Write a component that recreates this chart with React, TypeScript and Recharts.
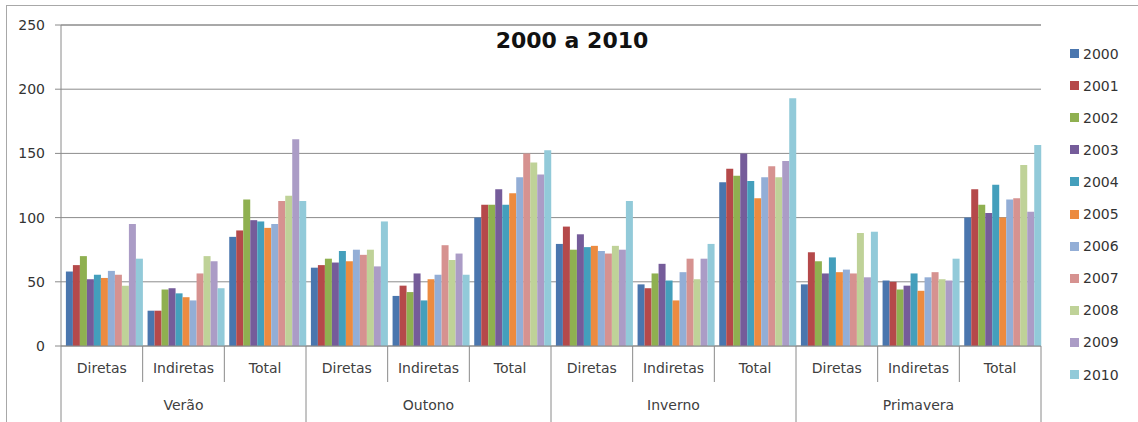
import React from "react";
import { BarChart, Bar, XAxis, YAxis, CartesianGrid } from "recharts";

// categories: season x type
const seasons = ["Verão", "Outono", "Inverno", "Primavera"];
const types = ["Diretas", "Indiretas", "Total"];
const years = ["2000", "2001", "2002", "2003", "2004", "2005", "2006", "2007", "2008", "2009", "2010"];
const yTicks = [0, 50, 100, 150, 200, 250];

// values per year, order: Verão D/I/T, Outono D/I/T, Inverno D/I/T, Primavera D/I/T
const v2000 = [58, 27.5, 85, 61, 39, 100, 79.5, 48, 127.5, 48, 51, 100];
const v2001 = [63, 27.5, 90, 63, 47, 110, 93, 45, 138, 73, 50, 122];
const v2002 = [70, 44, 114, 68, 42, 110, 75, 56.5, 132.5, 66, 44, 110];
const v2003 = [52, 45, 98, 65, 56.5, 122, 87, 64, 150, 56.5, 47, 103.5];
const v2004 = [55.5, 41, 97, 74, 35.5, 110, 77, 51, 128.5, 69, 56.5, 125.5];
const v2005 = [53, 38, 92, 66, 52, 119, 78, 35.5, 115, 57.5, 43, 100];
const v2006 = [58.5, 35.5, 95, 75, 55.5, 131.5, 74, 57.5, 131.5, 59.5, 53.5, 114];
const v2007 = [55.5, 56.5, 113, 71, 78.5, 150, 72, 68, 140, 56.5, 57.5, 115];
const v2008 = [47, 70, 117, 75, 67, 143, 78, 52, 131.5, 88, 52, 141];
const v2009 = [95, 66, 161, 62, 72, 133.5, 75, 68, 144, 53.5, 51, 104.5];
const v2010 = [68, 45, 113, 97, 55.5, 152.5, 113, 79.5, 193, 89, 68, 156.5];

const seriesValues = [v2000, v2001, v2002, v2003, v2004, v2005, v2006, v2007, v2008, v2009, v2010];

const colors = [
  "#4A76AE", "#B5494A", "#8FB050", "#755C9A", "#449FBC", "#EC8B40",
  "#93AED6", "#D69290", "#BFD298", "#AB9CC6", "#92CAD9",
];

const data = seasons.flatMap((s, si) =>
  types.map((t, ti) => {
    const row: Record<string, string | number> = { key: s + "|" + t, season: s, type: t };
    years.forEach((y, yi) => {
      row[y] = seriesValues[yi][si * 3 + ti];
    });
    return row;
  })
);

const FONT = "DejaVu Sans, sans-serif";
const W = 1138;
const H = 422;
const LEFT = 61;
const RIGHT = 1041;
const TOP = 25;
const BOTTOM = 346;
const band = (RIGHT - LEFT) / data.length;

function CategoryTick(props: any) {
  const { x, index } = props;
  const row = data[index];
  const lastInSeason = index % 3 === 2;
  const right = x + band / 2;
  const left = x - band / 2;
  return (
    <g>
      <text x={x} y={368} textAnchor="middle" dominantBaseline="central" fontSize={14} fontFamily={FONT} fill="#404040">
        {row.type}
      </text>
      {index % 3 === 1 && (
        <text x={x} y={405} textAnchor="middle" dominantBaseline="central" fontSize={14} fontFamily={FONT} fill="#404040">
          {row.season}
        </text>
      )}
      {index === 0 && <line x1={left} x2={left} y1={BOTTOM} y2={H} stroke="#8a8a8a" />}
      <line x1={right} x2={right} y1={BOTTOM} y2={lastInSeason ? H : 382} stroke="#8a8a8a" />
    </g>
  );
}

// value tick; also draws the top gridline, which the grid leaves out at the edge
function ValueTick(props: any) {
  const { x, y, payload } = props;
  return (
    <g>
      {payload.value === 250 && <line x1={LEFT} x2={RIGHT} y1={y} y2={y} stroke="#8c8c8c" />}
      <text x={x} y={y} textAnchor="end" dominantBaseline="central" fontSize={14} fontFamily={FONT} fill="#333">
        {payload.value}
      </text>
    </g>
  );
}

export default function App() {
  return (
    <div style={{ position: "absolute", left: 0, top: 0, width: W, height: H, overflow: "hidden", background: "#fff" }}>
      <div style={{ position: "absolute", left: 6, top: 5, width: W, height: H, border: "1px solid #a8a8a8" }} />
      <BarChart
        width={W}
        height={H}
        data={data}
        margin={{ top: TOP, right: W - RIGHT, left: 0, bottom: 0 }}
        barCategoryGap="6%"
        barGap={0}
      >
        <CartesianGrid vertical={false} stroke="#8c8c8c" />
        <XAxis
          dataKey="key"
          height={H - BOTTOM}
          axisLine={{ stroke: "#8a8a8a" }}
          tickLine={false}
          interval={0}
          tick={<CategoryTick />}
        />
        <YAxis
          width={LEFT}
          domain={[0, 250]}
          ticks={yTicks}
          axisLine={{ stroke: "#8a8a8a" }}
          tickLine={{ stroke: "#8a8a8a" }}
          tickSize={6}
          tickMargin={10}
          tick={<ValueTick />}
        />
        {years.map((y, i) => (
          <Bar key={y} dataKey={y} fill={colors[i]} isAnimationActive={false} />
        ))}
      </BarChart>
      <div
        style={{
          position: "absolute",
          left: 392,
          top: 28,
          width: 360,
          textAlign: "center",
          fontFamily: FONT,
          fontWeight: "bold",
          fontSize: 22,
          color: "#111",
        }}
      >
        2000 a 2010
      </div>
      {years.map((y, i) => (
        <div
          key={y}
          style={{
            position: "absolute",
            left: 1070,
            top: 53.5 + i * 32.1 - 9,
            height: 18,
            display: "flex",
            alignItems: "center",
            fontFamily: FONT,
            fontSize: 14,
            color: "#333",
          }}
        >
          <span style={{ display: "inline-block", width: 9, height: 9, background: colors[i], marginRight: 4 }} />
          {y}
        </div>
      ))}
    </div>
  );
}
